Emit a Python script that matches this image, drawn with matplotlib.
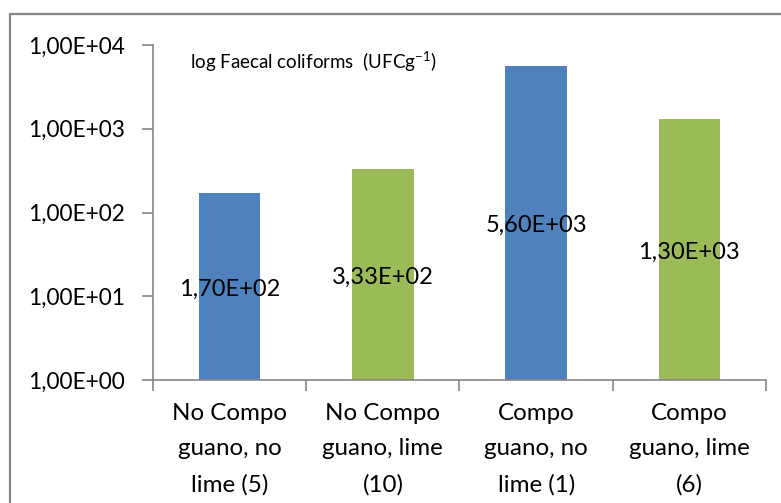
import numpy as np
import matplotlib
matplotlib.use("Agg")
import matplotlib.pyplot as plt
from matplotlib.patches import Rectangle

plt.rcParams['font.family'] = ['Lato', 'DejaVu Sans']
plt.rcParams['mathtext.default'] = 'regular'

# donnees
categories = ["No Compo\nguano, no\nlime (5)", "No Compo\nguano, lime\n(10)",
              "Compo\nguano, no\nlime (1)", "Compo\nguano, lime\n(6)"]
values = [170, 333, 5600, 1300]
value_labels = ["1,70E+02", "3,33E+02", "5,60E+03", "1,30E+03"]
bar_colors = ["#4F81BD", "#9BBB59", "#4F81BD", "#9BBB59"]
ytick_vals = [1, 10, 100, 1000, 10000]
ytick_labels = ["1,00E+00", "1,00E+01", "1,00E+02", "1,00E+03", "1,00E+04"]

fig = plt.figure(figsize=(7.81, 5.03), dpi=100)
# cadre gris autour du graphique
fig.patches.append(Rectangle((10/781, -0.1), 1.2, 1 - 14/503 + 0.1,
                             transform=fig.transFigure, fill=False,
                             edgecolor="#868686", linewidth=1.6))

ax = fig.add_axes([153/781, 1 - 380/503, (766 - 153)/781, (380 - 45)/503])
x = np.arange(len(values))
ax.bar(x, values, width=0.4, color=bar_colors)
ax.set_yscale("log")
ax.set_ylim(1, 10000)
ax.set_xlim(-0.5, len(values) - 0.5)

ax.set_yticks(ytick_vals)
ax.set_yticklabels(ytick_labels, fontsize=16.3)
ax.minorticks_off()
ax.set_xticks(np.arange(len(values) + 1) - 0.5)
ax.set_xticklabels([])
ax.tick_params(axis="both", direction="out", length=8, color="#868686", width=1.2)
ax.tick_params(axis="y", pad=12)

for s in ["top", "right"]:
    ax.spines[s].set_visible(False)
for s in ["left", "bottom"]:
    ax.spines[s].set_color("#868686")
    ax.spines[s].set_linewidth(1.2)

# etiquettes des categories
for i, cat in enumerate(categories):
    ax.text(i, -0.068, cat, transform=ax.get_xaxis_transform(), ha="center",
            va="top", fontsize=17.4, linespacing=1.85)

# etiquettes des valeurs au milieu des barres
for i, v in enumerate(values):
    ax.text(i, np.sqrt(v) * 0.93, value_labels[i], ha="center", va="center", fontsize=17)

ax.text(190/781, 1 - 62/503, "log Faecal coliforms  (UFCg$^{-1}$)",
        transform=fig.transFigure, ha="left", va="center", fontsize=13.5)

fig.savefig("out.png", dpi=100)
